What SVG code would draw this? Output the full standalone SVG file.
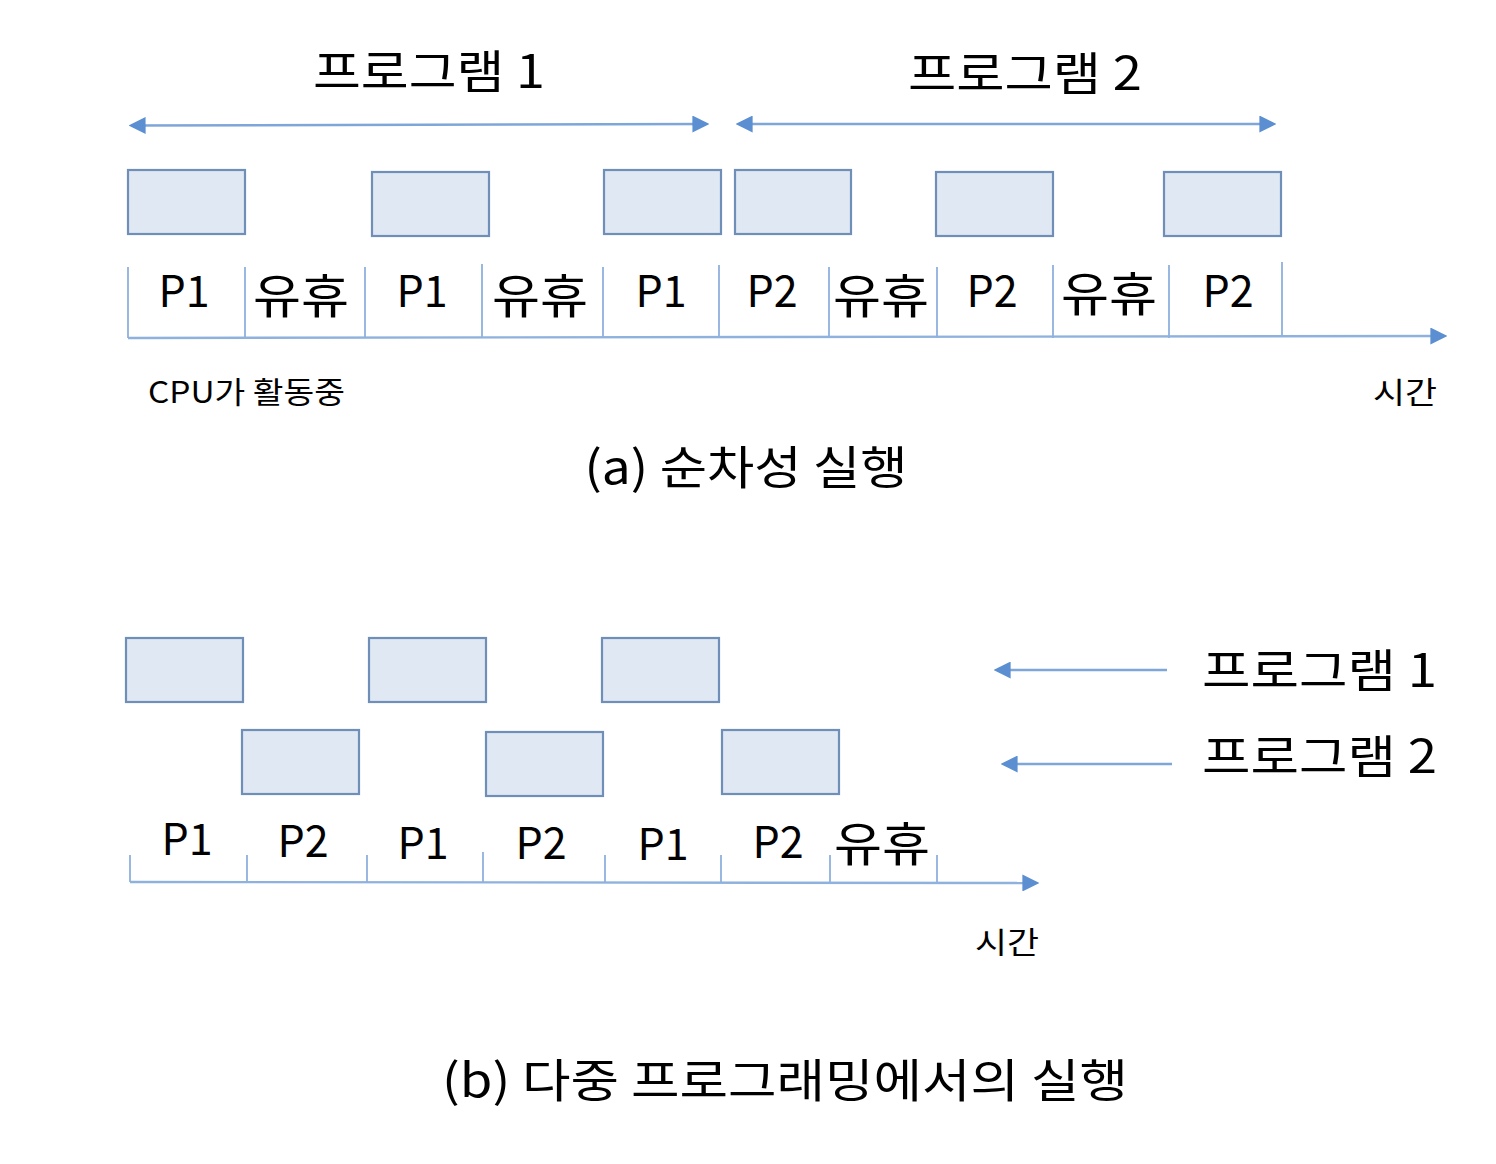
<svg xmlns="http://www.w3.org/2000/svg" width="1496" height="1164" viewBox="0 0 1496 1164">
<style>
.box{fill:#dfe8f3;stroke:#6f8eb8;stroke-width:2.2}
.ln{stroke:#8fb1de;stroke-width:1.8;fill:none}
.ax{stroke:#8fb1de;stroke-width:2.4;fill:none}
.ar{stroke:#7ea6d8;stroke-width:2.4;fill:none}
text{font-family:"Noto Sans CJK KR","Noto Sans",sans-serif;fill:#000}
.t{font-size:46px;text-anchor:middle}
.l{font-size:43px;text-anchor:middle}
.i{font-size:47px;text-anchor:middle}
.s{font-size:30px}
</style>
<defs>
<marker id="big" viewBox="0 0 10 10" markerWidth="17" markerHeight="17" refX="8" refY="5" orient="auto-start-reverse" markerUnits="userSpaceOnUse">
<path d="M0,0 L10,5 L0,10 Z" fill="#5b8fd1"/>
</marker>
</defs>

<g id="section-a">
<g id="title-prog1"><text class="t" x="429" y="88" textLength="232" lengthAdjust="spacingAndGlyphs">프로그램 1</text></g>
<g id="title-prog2"><text class="t" x="1025" y="90" textLength="234" lengthAdjust="spacingAndGlyphs">프로그램 2</text></g>

<g id="a-box1"><rect class="box" x="128" y="170" width="117" height="64"/></g>
<g id="a-box2"><rect class="box" x="372" y="172" width="117" height="64"/></g>
<g id="a-box3"><rect class="box" x="604" y="170" width="117" height="64"/></g>
<g id="a-box4"><rect class="box" x="735" y="170" width="116" height="64"/></g>
<g id="a-box5"><rect class="box" x="936" y="172" width="117" height="64"/></g>
<g id="a-box6"><rect class="box" x="1164" y="172" width="117" height="64"/></g>

<g id="a-labels">
<text class="l" x="184" y="307">P1</text>
<text class="i" x="301" y="313" textLength="96" lengthAdjust="spacingAndGlyphs">유휴</text>
<text class="l" x="422" y="307">P1</text>
<text class="i" x="540" y="313" textLength="96" lengthAdjust="spacingAndGlyphs">유휴</text>
<text class="l" x="661" y="307">P1</text>
<text class="l" x="772" y="307">P2</text>
<text class="i" x="881" y="313" textLength="96" lengthAdjust="spacingAndGlyphs">유휴</text>
<text class="l" x="992" y="307">P2</text>
<text class="i" x="1109" y="311" textLength="96" lengthAdjust="spacingAndGlyphs">유휴</text>
<text class="l" x="1228" y="307">P2</text>
</g>
<text class="s" x="148" y="403" textLength="197" lengthAdjust="spacingAndGlyphs">CPU가 활동중</text>
<text class="s" x="1373" y="403" textLength="64" lengthAdjust="spacingAndGlyphs">시간</text>
<text class="t" x="746" y="484" textLength="323" lengthAdjust="spacingAndGlyphs">(a) 순차성 실행</text>
</g>

<g id="section-b">
<g id="b-box1"><rect class="box" x="126" y="638" width="117" height="64"/></g>
<g id="b-box2"><rect class="box" x="369" y="638" width="117" height="64"/></g>
<g id="b-box3"><rect class="box" x="602" y="638" width="117" height="64"/></g>
<g id="b-box4"><rect class="box" x="242" y="730" width="117" height="64"/></g>
<g id="b-box5"><rect class="box" x="486" y="732" width="117" height="64"/></g>
<g id="b-box6"><rect class="box" x="722" y="730" width="117" height="64"/></g>
<g id="b-labels">
<text class="l" x="187" y="855">P1</text>
<text class="l" x="303" y="857">P2</text>
<text class="l" x="423" y="859">P1</text>
<text class="l" x="541" y="859">P2</text>
<text class="l" x="663" y="860">P1</text>
<text class="l" x="778" y="858">P2</text>
<text class="i" x="882" y="861" textLength="96" lengthAdjust="spacingAndGlyphs">유휴</text>
</g>
<text class="s" x="975" y="953" textLength="64" lengthAdjust="spacingAndGlyphs">시간</text>
<g id="b-prog1"><text font-size="46" x="1202" y="687" textLength="235" lengthAdjust="spacingAndGlyphs">프로그램 1</text></g>
<g id="b-prog2"><text font-size="46" x="1202" y="773" textLength="235" lengthAdjust="spacingAndGlyphs">프로그램 2</text></g>
<text class="t" x="785" y="1097" textLength="686" lengthAdjust="spacingAndGlyphs">(b) 다중 프로그래밍에서의 실행</text>
</g>

<g id="connectors">
<line class="ar" x1="132" y1="125.5" x2="706" y2="124" marker-start="url(#big)" marker-end="url(#big)"/>
<line class="ar" x1="739" y1="124" x2="1273" y2="124" marker-start="url(#big)" marker-end="url(#big)"/>
<path class="ln" d="M128,267V338 M245,267V338 M365,267V338 M482,264V338 M603,267V338 M719,265V338 M829,267V338 M937,267V338 M1053,265V338 M1169,265V338 M1282,262V336"/>
<line class="ax" x1="128" y1="338" x2="1444" y2="336" marker-end="url(#big)"/>
<path class="ln" d="M130,855V882 M247,855V882 M367,855V882 M483,852V882 M605,855V882 M721,855V882 M830,855V882 M937,855V882"/>
<line class="ax" x1="130" y1="882" x2="1036" y2="883" marker-end="url(#big)"/>
<line class="ar" x1="1167" y1="670" x2="997" y2="670" marker-end="url(#big)"/>
<line class="ar" x1="1172" y1="764" x2="1004" y2="764" marker-end="url(#big)"/>
</g>
</svg>
